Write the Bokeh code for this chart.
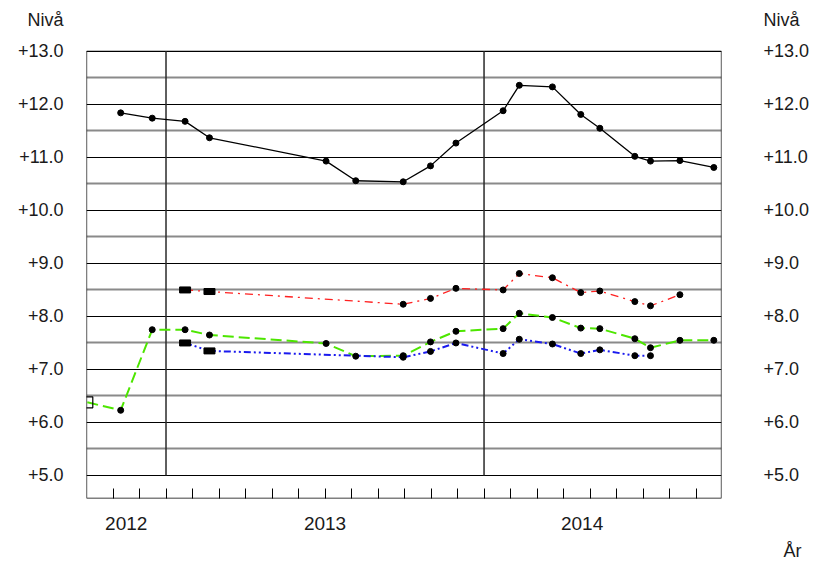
from bokeh.plotting import figure
from bokeh.embed import file_html
from bokeh.resources import INLINE
from bokeh.models import FixedTicker, LinearAxis, CustomJSTickFormatter, Range1d, Title

# ---- data (x = months since 1 Oct 2012) ----
black_x = [1.29, 2.48, 3.72, 4.64, 9.04, 10.16, 11.95, 12.98, 13.94, 15.72, 16.33, 17.58, 18.65, 19.37, 20.69, 21.28, 22.39, 23.67]
black_y = [11.84, 11.74, 11.68, 11.37, 10.93, 10.56, 10.54, 10.84, 11.27, 11.88, 12.36, 12.33, 11.81, 11.55, 11.02, 10.93, 10.94, 10.81]

green_x = [0.03, 1.29, 2.48, 3.72, 4.64, 9.04, 10.16, 11.95, 12.98, 13.94, 15.72, 16.33, 17.58, 18.65, 19.37, 20.69, 21.28, 22.39, 23.67]
green_y = [6.38, 6.23, 7.75, 7.75, 7.65, 7.49, 7.25, 7.26, 7.52, 7.72, 7.77, 8.06, 7.98, 7.78, 7.77, 7.58, 7.41, 7.55, 7.55]

red_x = [3.72, 4.64, 11.95, 12.98, 13.94, 15.72, 16.33, 17.58, 18.65, 19.37, 20.69, 21.28, 22.39]
red_y = [8.50, 8.47, 8.23, 8.34, 8.53, 8.50, 8.81, 8.73, 8.45, 8.48, 8.28, 8.20, 8.41]

blue_x = [3.72, 4.64, 11.95, 12.98, 13.94, 15.72, 16.33, 17.58, 18.65, 19.37, 20.69, 21.28]
blue_y = [7.50, 7.35, 7.23, 7.34, 7.50, 7.30, 7.57, 7.48, 7.30, 7.37, 7.26, 7.26]

level_ticks = [5, 6, 7, 8, 9, 10, 11, 12, 13]
half_ticks = [5.5, 6.5, 7.5, 8.5, 9.5, 10.5, 11.5, 12.5]
level_title_pos = 13.6
level_title = "Nivå"
month_ticks = list(range(1, 24))
year_starts = [3, 15]
year_label_x = [1.5, 9.0, 18.7]
year_labels = ["2012", "2013", "2014"]
time_title = "År"

X0, X1 = 0, 23.96
Y0, Y1 = 4.566, 13.0

FONT = "Liberation Sans"
TXT = "#1a1a1a"

W, H = 815, 570
FL, FT, FR, FB = 86, 18, 721, 498
p = figure(width=W, height=H, output_backend="svg", toolbar_location=None,
           x_range=Range1d(X0, X1), y_range=Range1d(Y0, 13.62),
           min_border_left=FL, min_border_right=W - FR, min_border_top=FT,
           min_border_bottom=H - FB, x_axis_location=None, y_axis_location=None)
p.background_fill_color = None
p.border_fill_color = "white"
p.outline_line_color = None

# grid
p.xgrid.visible = False
p.ygrid.ticker = FixedTicker(ticks=level_ticks, minor_ticks=half_ticks)
p.ygrid.grid_line_color = "black"
p.ygrid.grid_line_width = 1
p.ygrid.minor_grid_line_color = "#8a8a8a"
p.ygrid.minor_grid_line_width = 2

# chart box
p.quad(left=[X0], right=[X1], bottom=[Y0], top=[Y1], fill_color=None,
       line_color="black", line_width=1.3)

fmt = CustomJSTickFormatter(code="return '+' + tick.toFixed(1);")
for side, standoff in (("left", 17), ("right", 36)):
    ax = LinearAxis(ticker=FixedTicker(ticks=level_ticks + [level_title_pos]), formatter=fmt,
                    major_label_overrides={level_title_pos: level_title})
    ax.axis_line_color = None
    ax.major_tick_line_color = None
    ax.minor_tick_line_color = None
    ax.major_label_standoff = standoff
    ax.major_label_text_font = FONT
    ax.major_label_text_font_size = "18px"
    ax.major_label_text_color = TXT
    p.add_layout(ax, side)

xax = LinearAxis(ticker=FixedTicker(ticks=year_label_x, minor_ticks=month_ticks),
                 major_label_overrides=dict(zip(year_label_x, year_labels)))
xax.axis_line_color = None
xax.major_tick_line_color = None
xax.minor_tick_in = 10
xax.minor_tick_out = 0
xax.minor_tick_line_color = "black"
xax.minor_tick_line_width = 1
xax.major_label_standoff = 12
xax.major_label_text_font = FONT
xax.major_label_text_font_size = "19px"
xax.major_label_text_color = TXT
p.add_layout(xax, "below")

p.add_layout(Title(text=time_title, align="left", offset=697, standoff=13,
                   text_font=FONT, text_font_size="18px", text_font_style="normal",
                   text_color=TXT), "below")

# year separators
p.segment(x0=year_starts, x1=year_starts, y0=[level_ticks[0]] * 2, y1=[level_ticks[-1]] * 2,
          line_color="#2a2a2a", line_width=1.5)

# series
p.line(black_x, black_y, line_color="black", line_width=1.3)
p.line(green_x, green_y, line_color="#4de600", line_width=2, line_dash="11 5")
p.line(red_x, red_y, line_color="#ff2020", line_width=1.3, line_dash="8 5 2 5")
p.line(blue_x, blue_y, line_color="#1a1aee", line_width=2, line_dash="7 3 2 3 2 3")

p.scatter(black_x, black_y, size=6, color="black")
p.scatter(green_x[1:], green_y[1:], size=6, color="black")
p.scatter(red_x[2:], red_y[2:], size=6, color="black")
p.scatter(blue_x[2:], blue_y[2:], size=6, color="black")
p.rect(red_x[:2], red_y[:2], width=11, height=6, width_units="screen", height_units="screen", color="black")
p.rect(blue_x[:2], blue_y[:2], width=11, height=6, width_units="screen", height_units="screen", color="black")
p.rect(green_x[:1], green_y[:1], width=11, height=11, width_units="screen", height_units="screen",
       fill_color=None, line_color="black", line_width=1.2)

open("out.html", "w").write(file_html(p, INLINE))
